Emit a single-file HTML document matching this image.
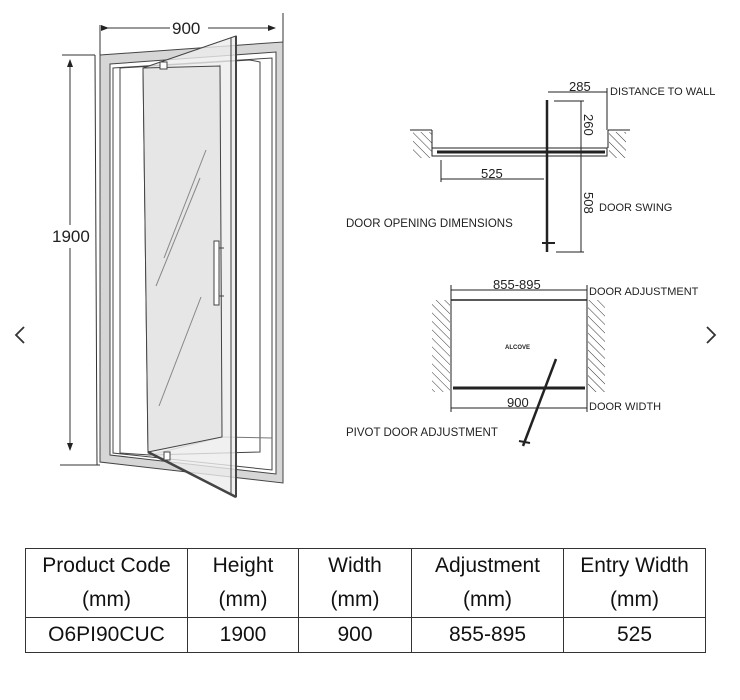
<!DOCTYPE html>
<html><head><meta charset="utf-8"><style>
html,body{margin:0;padding:0;background:#fff;width:740px;height:700px;overflow:hidden}
svg{position:absolute;left:0;top:0}
table{position:absolute;left:25px;top:548px;border-collapse:collapse;font-family:"Liberation Sans",sans-serif;font-size:21px;color:#111}
td{border:1px solid #333;text-align:center;padding:0;line-height:34px}
</style></head><body>
<svg width="740" height="700" viewBox="0 0 740 700" font-family="Liberation Sans, sans-serif">
<defs>
<marker id="a" markerWidth="8" markerHeight="6" refX="7" refY="3" orient="auto"><path d="M0,0 L8,3 L0,6 z" fill="#222"/></marker>
<pattern id="h" width="6" height="6" patternUnits="userSpaceOnUse" patternTransform="rotate(-45)"><line x1="0" y1="0" x2="0" y2="6" stroke="#333" stroke-width="1"/></pattern>
</defs>
<polyline points="24,327 16,335 24,343" fill="none" stroke="#333" stroke-width="1.8"/>
<polyline points="707,327 715,335 707,343" fill="none" stroke="#333" stroke-width="1.8"/>
<g stroke="#333" fill="none" stroke-width="1">
<line x1="100" y1="25" x2="100" y2="58"/>
<line x1="283" y1="13" x2="283" y2="45"/>
<line x1="108" y1="28" x2="170" y2="28" marker-start="url(#a)" />
<line x1="208" y1="28" x2="275" y2="28" marker-end="url(#a)"/>
<line x1="62" y1="55" x2="95" y2="55"/>
<line x1="95" y1="55" x2="97" y2="465"/>
<line x1="60" y1="465" x2="100" y2="465"/>
<line x1="70" y1="225" x2="70" y2="60" marker-end="url(#a)"/>
<line x1="70" y1="248" x2="70" y2="450" marker-end="url(#a)"/>
</g>
<text x="52" y="242" font-size="17" fill="#222">1900</text>
<text x="172" y="34" font-size="17" fill="#222">900</text>
<g stroke="#444" stroke-width="1">
<polygon points="100,55 283,42 283,483 100,462" fill="#d6d6d6"/>
<polygon points="110,64 276,52 276,474 110,455" fill="#fff"/>
<polygon points="113,68 272,58 272,470 113,453" fill="#fff"/>
<polygon points="120,68 250,60 260,62 260,452 150,455 120,453" fill="#fff"/>
<line x1="220" y1="64" x2="222" y2="437" stroke="#777"/>
<line x1="222" y1="437" x2="272" y2="438" stroke="#777"/>
<line x1="150" y1="455" x2="222" y2="437" stroke="#777"/>
<polygon points="143,68 236,36 236,497 148,452" fill="#ececec" fill-opacity="0.8"/>
<polygon points="143,68 220,66 222,437 148,452" fill="#e6e6e6"/>
<line x1="236" y1="36" x2="236" y2="497" stroke-width="2"/>
<line x1="231" y1="38" x2="231" y2="495"/>
<line x1="148" y1="452" x2="236" y2="497" stroke-width="2.5"/>
<rect x="160" y="62" width="7" height="7" fill="#fff"/>
<rect x="164" y="452" width="6" height="8" fill="#fff"/>
<rect x="214" y="241" width="5" height="64" fill="#fff"/>
<line x1="219" y1="248" x2="224" y2="248"/><line x1="219" y1="296" x2="224" y2="296"/>
<line x1="206" y1="150" x2="164" y2="258" stroke="#888"/>
<line x1="200" y1="178" x2="156" y2="286" stroke="#888"/>
<line x1="201" y1="297" x2="159" y2="406" stroke="#888"/>
</g>
<g stroke="#222" fill="none" stroke-width="1">
<rect x="413" y="132" width="19" height="26" fill="url(#h)" stroke="none"/>
<rect x="609" y="132" width="17" height="26" fill="url(#h)" stroke="none"/>
<line x1="410" y1="130" x2="432" y2="130"/><line x1="432" y1="130" x2="432" y2="148"/>
<line x1="608" y1="130" x2="630" y2="130"/><line x1="608" y1="130" x2="608" y2="148"/>
<rect x="432" y="148" width="175" height="8" stroke-width="1"/>
<line x1="437" y1="152" x2="605" y2="152" stroke-width="3"/>
<line x1="547" y1="100" x2="547" y2="252" stroke-width="2.5"/>
<line x1="542" y1="243" x2="555" y2="243" stroke-width="2"/>
<line x1="548" y1="92" x2="607" y2="92"/>
<line x1="607" y1="88" x2="607" y2="130"/>
<line x1="554" y1="101" x2="584" y2="101"/>
<line x1="581" y1="101" x2="581" y2="252"/>
<line x1="556" y1="252" x2="584" y2="252"/>
<line x1="441" y1="179" x2="544" y2="179"/>
<line x1="441" y1="160" x2="441" y2="182"/>
</g>
<text x="569" y="91" font-size="13" fill="#222">285</text>
<text x="610" y="95" font-size="11" fill="#222">DISTANCE TO WALL</text>
<text x="584" y="114" font-size="13" fill="#222" transform="rotate(90 584 114)">260</text>
<text x="584" y="192" font-size="13" fill="#222" transform="rotate(90 584 192)">508</text>
<text x="599" y="211" font-size="11" fill="#222">DOOR SWING</text>
<text x="481" y="178" font-size="13" fill="#222">525</text>
<text x="346" y="227" font-size="11.5" fill="#222">DOOR OPENING DIMENSIONS</text>
<g stroke="#222" fill="none" stroke-width="1">
<rect x="432" y="300" width="18" height="92" fill="url(#h)" stroke="none"/>
<rect x="588" y="300" width="17" height="92" fill="url(#h)" stroke="none"/>
<line x1="451" y1="290" x2="587" y2="290"/>
<line x1="451" y1="285" x2="451" y2="412"/>
<line x1="587" y1="285" x2="587" y2="412"/>
<line x1="451" y1="300" x2="587" y2="300" stroke-width="1.5"/>
<line x1="453" y1="388" x2="585" y2="388" stroke-width="3"/>
<line x1="451" y1="408" x2="587" y2="408"/>
<line x1="556" y1="359" x2="523" y2="446" stroke-width="2.5"/>
<line x1="519" y1="441" x2="530" y2="443" stroke-width="2"/>
</g>
<text x="493" y="289" font-size="13" fill="#222">855-895</text>
<text x="589" y="295" font-size="11" fill="#222">DOOR ADJUSTMENT</text>
<text x="505" y="349" font-size="6" font-weight="bold" fill="#222">ALCOVE</text>
<text x="507" y="407" font-size="13" fill="#222">900</text>
<text x="589" y="410" font-size="11" fill="#222">DOOR WIDTH</text>
<text x="346" y="436" font-size="11.5" fill="#222">PIVOT DOOR ADJUSTMENT</text>
</svg>
<table>
<tr><td style="width:161px">Product Code<br>(mm)</td><td style="width:110px">Height<br>(mm)</td><td style="width:112px">Width<br>(mm)</td><td style="width:151px">Adjustment<br>(mm)</td><td style="width:141px">Entry Width<br>(mm)</td></tr>
<tr><td>O6PI90CUC</td><td>1900</td><td>900</td><td>855-895</td><td>525</td></tr>
</table>
</body></html>
